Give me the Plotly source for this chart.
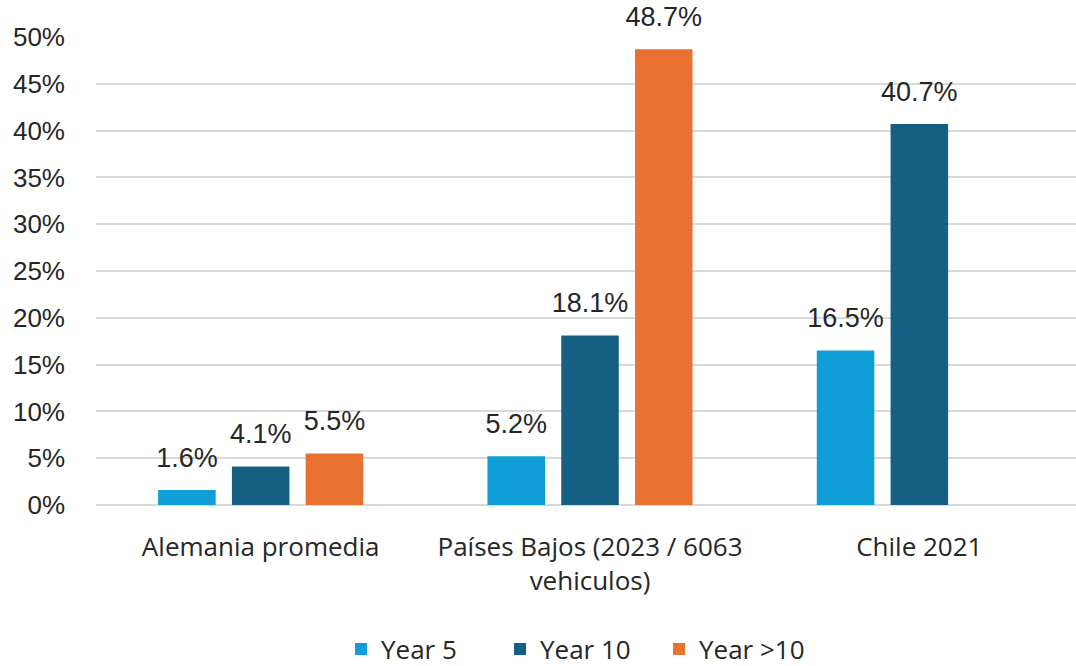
import plotly.graph_objects as go

categories = ["Alemania promedia", "Países Bajos (2023 / 6063<br>vehiculos)", "Chile 2021"]
series_names = ["Year 5", "Year 10", "Year >10"]
year5 = [1.6, 5.2, 16.5]
year10 = [4.1, 18.1, 40.7]
year_gt10 = [5.5, 48.7, None]
colors = ["#0F9ED5", "#156082", "#E97132"]
y_ticks = [0, 5, 10, 15, 20, 25, 30, 35, 40, 45, 50]


def label(v):
    if v is None:
        return ""
    return (f"<span style='font-size:27px'>{v:.1f}%</span><br>"
            "<span style='font-size:3px;color:rgba(0,0,0,0)'>.</span>")


fig = go.Figure()
for name, vals, col in zip(series_names, [year5, year10, year_gt10], colors):
    fig.add_trace(go.Bar(
        x=categories, y=vals, name=name,
        marker=dict(color=col, line=dict(width=0)),
        text=[label(v) for v in vals],
        textposition="outside",
        constraintext="none",
        textfont=dict(family="Liberation Sans, Arial", size=15, color="#262626"),
        cliponaxis=False,
    ))

fig.update_layout(
    width=1086, height=666,
    margin=dict(l=96, r=2, t=37, b=161, autoexpand=False),
    paper_bgcolor="white", plot_bgcolor="white",
    barmode="group", bargap=0.328, bargroupgap=0.22,
    showlegend=True,
    legend=dict(orientation="h", x=0.248, xanchor="left", y=-0.308, yanchor="middle",
                entrywidth=114, entrywidthmode="pixels",
                font=dict(family="Open Sans, Lato, sans-serif", size=26, color="#262626"),
                traceorder="normal"),
)
fig.update_yaxes(
    range=[0, 50], tickvals=y_ticks, ticktext=[f"{t}%" for t in y_ticks],
    showgrid=True, gridcolor="#D9D9D9", gridwidth=1.5,
    zeroline=True, zerolinecolor="#D9D9D9", zerolinewidth=1.5,
    showline=False, ticks="", ticklabelstandoff=30, automargin=False,
    tickfont=dict(family="Liberation Sans, Arial", size=26, color="#262626"),
)
fig.update_xaxes(
    showline=False, ticks="", ticklabelstandoff=24, automargin=False,
    tickfont=dict(family="Open Sans, Lato, sans-serif", size=26, color="#262626"),
)

fig.write_html(
    "out.html",
    config={"displayModeBar": False},
    post_script="document.body.style.margin='0';document.body.style.overflow='hidden';",
)
